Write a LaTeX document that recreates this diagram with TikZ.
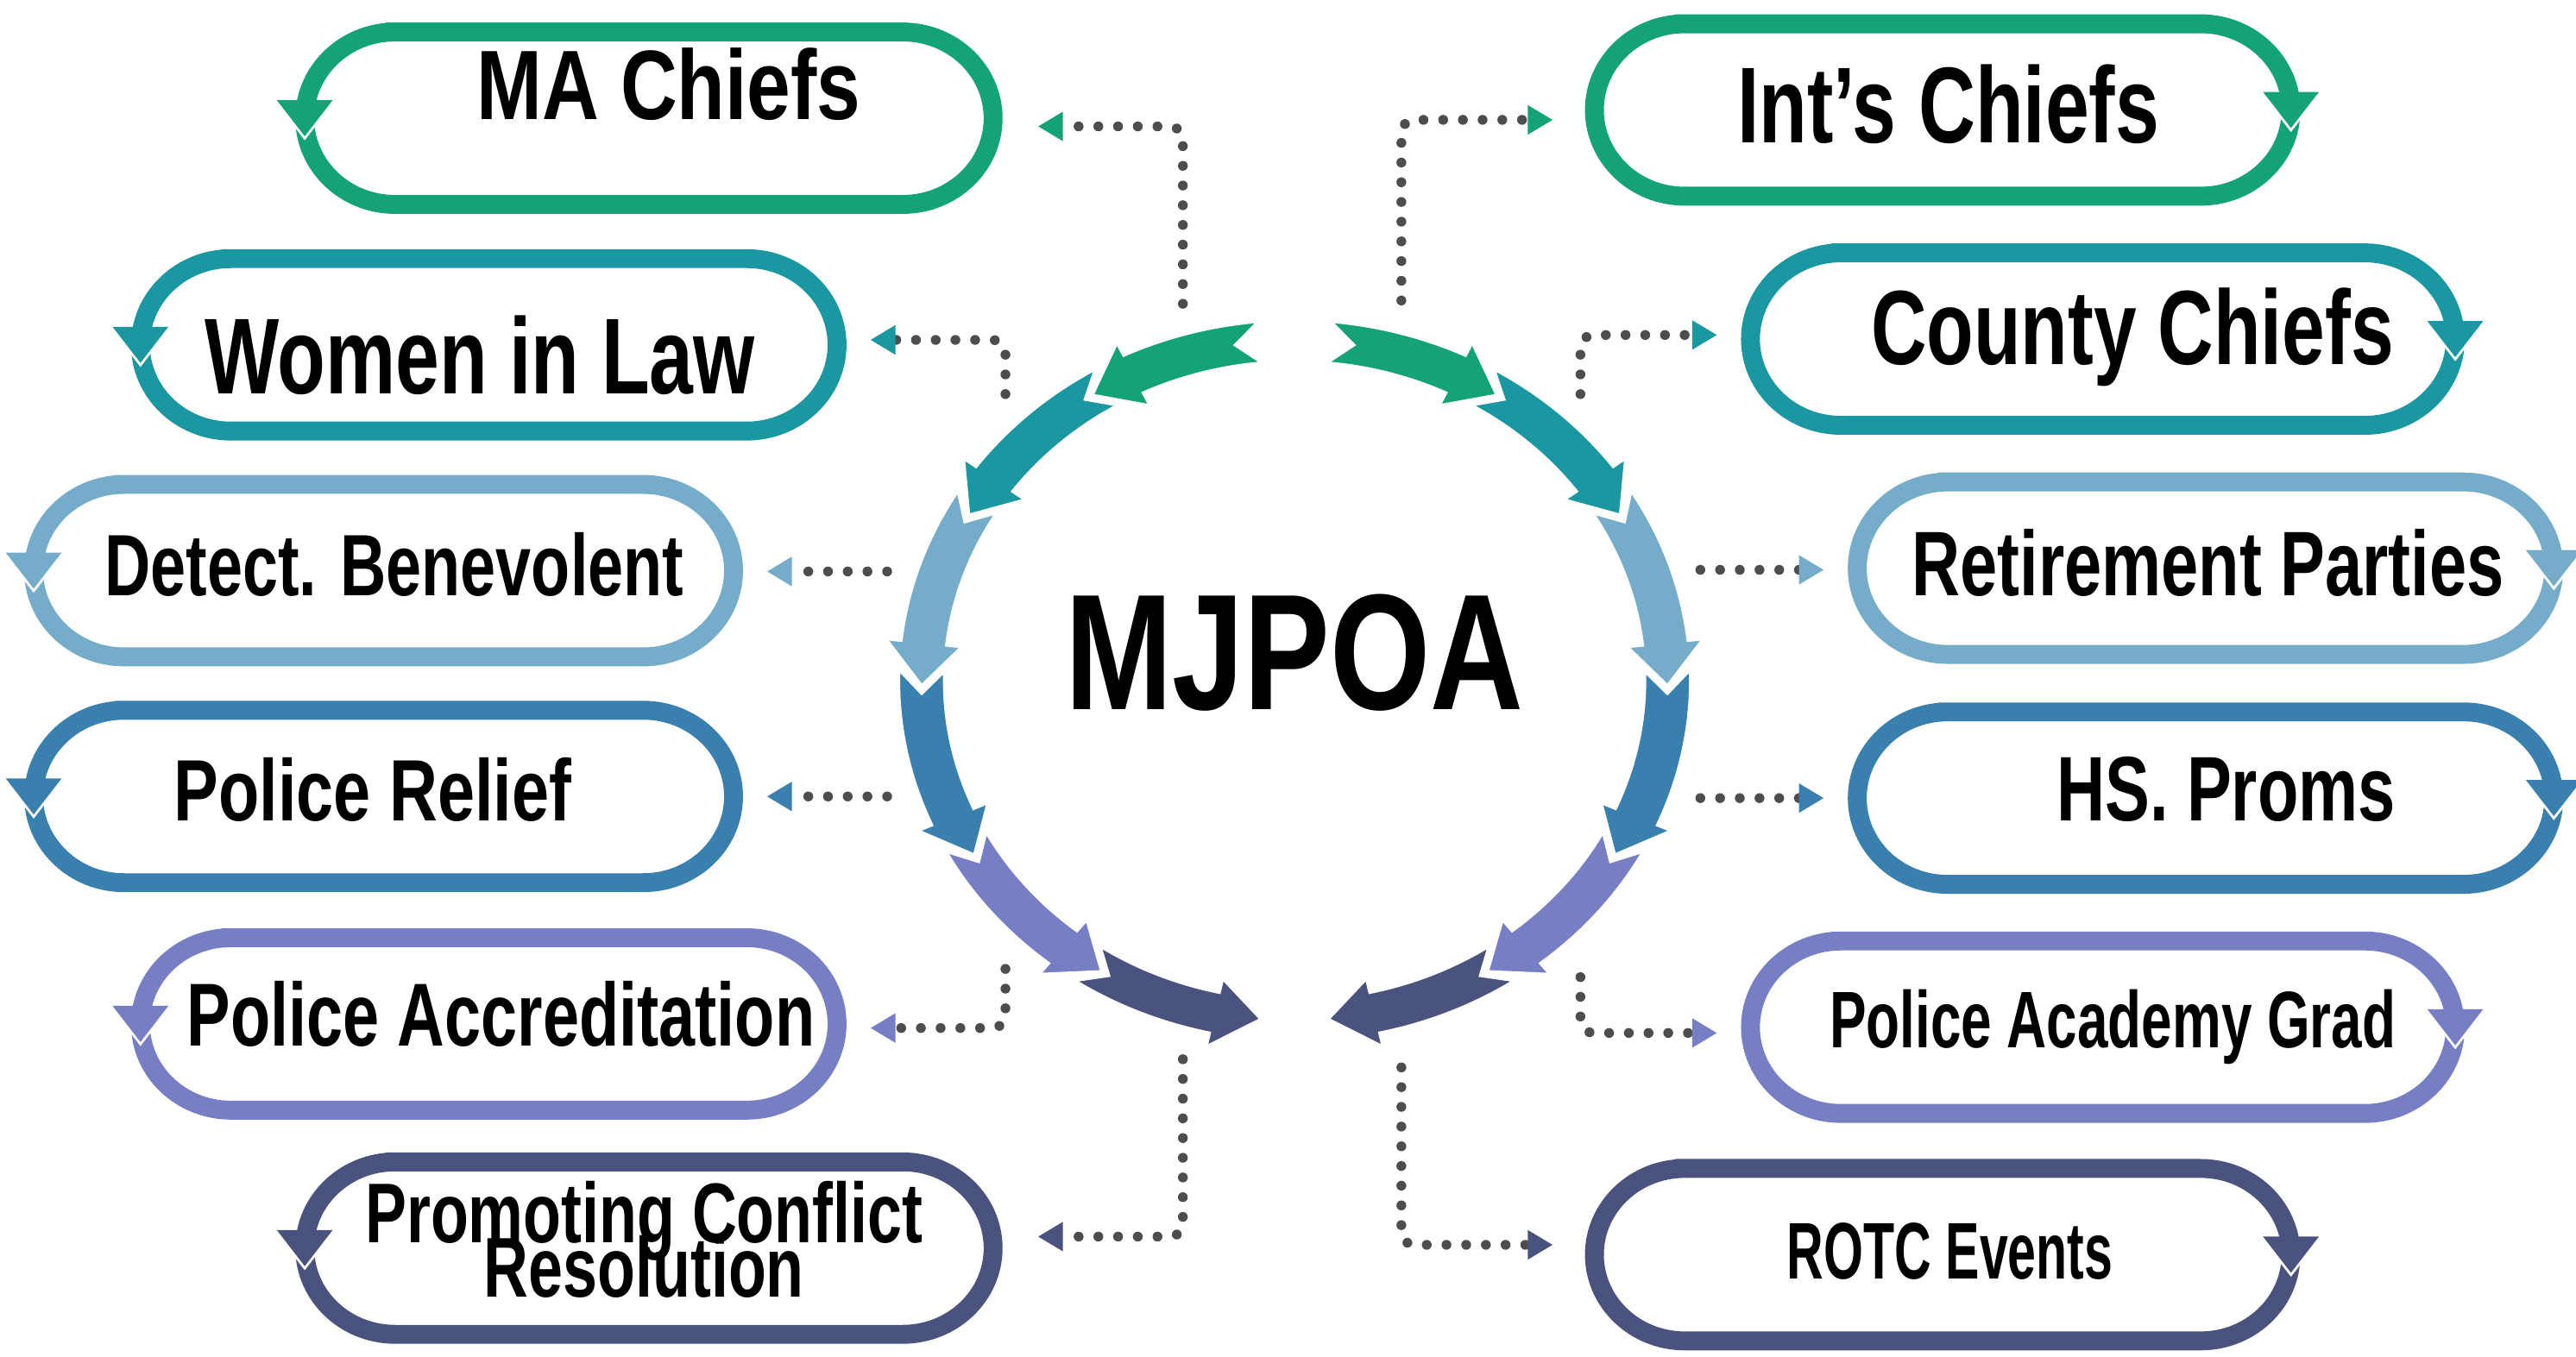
\documentclass[tikz,border=0pt]{standalone}
\usepackage{fontspec}
\newfontfamily\lblfont{Liberation Sans}[FakeStretch=0.73]
\usetikzlibrary{arrows.meta}

\definecolor{cgreen}{HTML}{14A277}
\definecolor{cteal}{HTML}{1A97A0}
\definecolor{clight}{HTML}{74ACCA}
\definecolor{cblue}{HTML}{3A80AE}
\definecolor{clav}{HTML}{767EC4}
\definecolor{cnavy}{HTML}{4A527E}
\definecolor{cdot}{HTML}{4D4D4D}

\newcommand\tightlines{\lineskiplimit=-100pt\relax}

\tikzset{
  lbl/.style={font=\lblfont\bfseries\fontsize{#1}{#1}\selectfont, inner sep=0pt, anchor=base},
  dotline/.style={draw=cdot, line width=0.6mm, line cap=round, dash pattern=on 0pt off 1.2mm, rounded corners=0.8mm},
  tipto/.style={-{Triangle[length=1.5mm, width=1.8mm, line width=0pt, color=#1]}},
}

% capsule: left x, right x, centre y, colour, x of the arrow
\newcommand\capsule[5]{%
  \draw[#4, line width=1.15mm] (#1+55,#3+52.5) -- (#2-55,#3+52.5)
    arc[start angle=90, end angle=-90, x radius=55, y radius=52.5]
    -- (#1+55,#3-52.5)
    arc[start angle=270, end angle=90, x radius=55, y radius=52.5] -- cycle;
  \draw[white, line width=0.3mm] (#5-17,#3+11) -- (#5,#3-11) -- (#5+17,#3+11);
  \fill[#4] (#5-17,#3+11) -- (#5,#3-11) -- (#5+17,#3+11) -- cycle;
}

% ring arrow: colour, tail angle, tip angle, direction (1 or -1)
\newcommand\ringarrow[4]{%
  \filldraw[fill=#1, draw=white, line width=0.25mm]
    (#2:220) arc[start angle=#2, end angle={#3-7.5*(#4)}, radius=220]
    -- ({#3-7.5*(#4)}:229) -- (#3:207) -- ({#3-7.5*(#4)}:185) -- ({#3-7.5*(#4)}:194)
    arc[start angle={#3-7.5*(#4)}, end angle=#2, radius=194]
    -- ({#2+4*(#4)}:207) -- cycle;
}

\begin{document}
\begin{tikzpicture}[x=0.1mm, y=0.1mm]
    \useasboundingbox (0,0) rectangle (1568,826);

    % the ring
    \begin{scope}[shift={(788,411.5)}, xscale=1.097]
        \ringarrow{cnavy}{236}{265}{1}
        \ringarrow{cnavy}{-56}{-85}{-1}
        \ringarrow{clav}{208}{239}{1}
        \ringarrow{clav}{-28}{-59}{-1}
        \ringarrow{cblue}{178}{211}{1}
        \ringarrow{cblue}{2}{-31}{-1}
        \ringarrow{clight}{148}{181}{1}
        \ringarrow{clight}{32}{-1}{-1}
        \ringarrow{cteal}{120}{151}{1}
        \ringarrow{cteal}{60}{29}{-1}
        \ringarrow{cgreen}{95}{123}{1}
        \ringarrow{cgreen}{85}{57}{-1}
    \end{scope}
    \node[lbl=28.6] (mjpoa) at (788,394) {\scalebox{1.07}[1]{MJPOA}};

    % left capsules
    \capsule{185.5}{604.5}{754}{cgreen}{185.5}
    \capsule{85.5}{509.5}{616}{cteal}{85.5}
    \capsule{20.5}{446.5}{478.5}{clight}{20.5}
    \capsule{20.5}{446.5}{341}{cblue}{20.5}
    \capsule{85.5}{509.5}{202.5}{clav}{85.5}
    \capsule{185.5}{604.5}{66}{cnavy}{185.5}

    % right capsules
    \capsule{970.5}{1394.5}{759}{cgreen}{1394.5}
    \capsule{1065.5}{1494.5}{619.5}{cteal}{1494.5}
    \capsule{1130.5}{1554.5}{480}{clight}{1554.5}
    \capsule{1130.5}{1554.5}{340}{cblue}{1554.5}
    \capsule{1065.5}{1494.5}{200.5}{clav}{1494.5}
    \capsule{970.5}{1394.5}{62}{cnavy}{1394.5}

    \node[lbl=17.1] (ma) at (407,753) {\scalebox{1.09}[1]{MA Chiefs}};
    \node[lbl=18.7] (women) at (292,586) {Women in Law};
    \node[lbl=15.1] (detect) at (240,463) {Detect. Benevolent};
    \node[lbl=15.1] (relief) at (227,326) {\scalebox{1.05}[1]{Police Relief}};
    \node[lbl=15.5] (accred) at (305,189) {Police Accreditation};
    \node[lbl=14.7, align=center, font=\lblfont\bfseries\fontsize{14.7}{9.4}\selectfont\tightlines] (conflict) at (392,36) {Promoting Conflict\\Resolution};

    \node[lbl=18.7] (intl) at (1186,739) {Int’s Chiefs};
    \node[lbl=18.3] (county) at (1298,604) {County Chiefs};
    \node[lbl=15.9] (retire) at (1344,463) {Retirement Parties};
    \node[lbl=15.9] (proms) at (1355,326) {HS. Proms};
    \node[lbl=13.9] (grad) at (1286,188) {\scalebox{0.94}[1]{Police Academy Grad}};
    \node[lbl=13.9] (rotc) at (1187,47) {\scalebox{0.87}[1]{ROTC Events}};

    % dotted links
    \coordinate (l1a) at (720,641);  \coordinate (l1b) at (632,749);
    \coordinate (l2a) at (612,586);  \coordinate (l2b) at (530,619);
    \coordinate (l3a) at (540,478);  \coordinate (l3b) at (467,478);
    \coordinate (l4a) at (540,341);  \coordinate (l4b) at (467,341);
    \coordinate (l5a) at (612,236);  \coordinate (l5b) at (530,200);
    \coordinate (l6a) at (720,181);  \coordinate (l6b) at (632,73);
    \coordinate (r1a) at (853,643);  \coordinate (r1b) at (945,753);
    \coordinate (r2a) at (962,586);  \coordinate (r2b) at (1045,622);
    \coordinate (r3a) at (1035,479); \coordinate (r3b) at (1110,479);
    \coordinate (r4a) at (1035,340); \coordinate (r4b) at (1110,340);
    \coordinate (r5a) at (962,231);  \coordinate (r5b) at (1045,197);
    \coordinate (r6a) at (853,176);  \coordinate (r6b) at (945,68);

    \draw[dotline, tipto=cgreen] (l1a) |- (l1b);
    \draw[dotline, tipto=cteal] (l2a) |- (l2b);
    \draw[dotline, tipto=clight] (l3a) -- (l3b);
    \draw[dotline, tipto=cblue] (l4a) -- (l4b);
    \draw[dotline, tipto=clav] (l5a) |- (l5b);
    \draw[dotline, tipto=cnavy] (l6a) |- (l6b);
    \draw[dotline, tipto=cgreen] (r1a) |- (r1b);
    \draw[dotline, tipto=cteal] (r2a) |- (r2b);
    \draw[dotline, tipto=clight] (r3a) -- (r3b);
    \draw[dotline, tipto=cblue] (r4a) -- (r4b);
    \draw[dotline, tipto=clav] (r5a) |- (r5b);
    \draw[dotline, tipto=cnavy] (r6a) |- (r6b);

\end{tikzpicture}
\end{document}
